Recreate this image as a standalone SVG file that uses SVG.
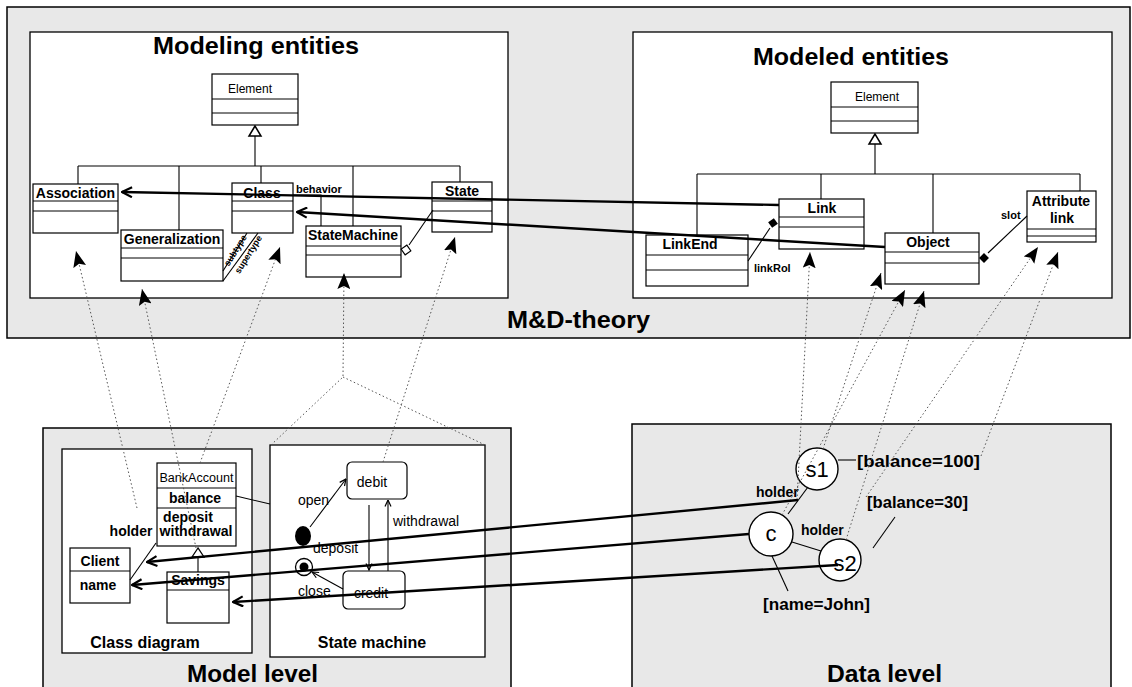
<svg xmlns="http://www.w3.org/2000/svg" width="1132" height="687" viewBox="0 0 1132 687">
<defs>
<marker id="tri" viewBox="0 0 16 13" refX="16" refY="6.5" markerWidth="16" markerHeight="13" markerUnits="userSpaceOnUse" orient="auto"><path d="M0,0 L16,6.5 L0,13 L3,6.5 z" fill="#000"/></marker>
<marker id="vee" viewBox="0 0 12 12" refX="11" refY="6" markerWidth="12" markerHeight="12" markerUnits="userSpaceOnUse" orient="auto"><path d="M1,1 L11,6 L1,11" fill="none" stroke="#000" stroke-width="2.2"/></marker>
<marker id="vs" viewBox="0 0 8 8" refX="7.5" refY="4" markerWidth="8" markerHeight="8" markerUnits="userSpaceOnUse" orient="auto"><path d="M1,1 L7.5,4 L1,7" fill="none" stroke="#000" stroke-width="1.2"/></marker>
</defs>
<style>
.panel{fill:#e8e8e8;stroke:#000;stroke-width:1.5}
.box{fill:#fff;stroke:#000;stroke-width:1.3}
.cls{fill:#fff;stroke:#000;stroke-width:1.2}
.sep{stroke:#000;stroke-width:1}
.t{font-family:"Liberation Sans",Arial,sans-serif;fill:#000}
.b{font-weight:bold}
.m{text-anchor:middle}
.dot{fill:none;stroke:#555;stroke-width:1;stroke-dasharray:1.5 2.5}
.thick{fill:none;stroke:#000;stroke-width:2.4}
.thin{fill:none;stroke:#000;stroke-width:1.1}
</style>

<g id="panels">
<rect x="7" y="7" width="1123" height="331" class="panel"/>
<rect x="43" y="428" width="468" height="262" class="panel"/>
<rect x="632" y="424" width="479" height="266" class="panel"/>
<rect x="30" y="32" width="478" height="266" class="box"/>
<rect x="633" y="32" width="479" height="266" class="box"/>
<rect x="62" y="449" width="190" height="204" class="box"/>
<rect x="270" y="445" width="215" height="212" class="box"/>
<text x="256" y="54" class="t b m" font-size="24" textLength="206" lengthAdjust="spacingAndGlyphs">Modeling entities</text>
<text x="851" y="65" class="t b m" font-size="24" textLength="196" lengthAdjust="spacingAndGlyphs">Modeled entities</text>
<text x="507" y="328" class="t b" font-size="24" textLength="143" lengthAdjust="spacingAndGlyphs">M&amp;D-theory</text>
<text x="187" y="682" class="t b" font-size="24" textLength="131" lengthAdjust="spacingAndGlyphs">Model level</text>
<text x="827" y="682" class="t b" font-size="24" textLength="115" lengthAdjust="spacingAndGlyphs">Data level</text>
<text x="145" y="648" class="t b m" font-size="16">Class diagram</text>
<text x="372" y="648" class="t b m" font-size="16">State machine</text>
</g>

<g id="trees">
<polygon points="255,126 249,136 261,136" fill="#fff" stroke="#000" stroke-width="1.5"/>
<path d="M255,136 V166 M78,166 H460 M78,166 V184 M179,166 V230 M261,166 V183 M353,166 V226 M460,166 V182" class="thin"/>
<polygon points="875,134 869,144 881,144" fill="#fff" stroke="#000" stroke-width="1.5"/>
<path d="M875,144 V174 M697,174 H1080 M697,174 V235 M821,174 V199 M933,174 V233 M1080,174 V191" class="thin"/>
</g>

<g id="el-left">
<rect x="212" y="74" width="86" height="51" class="cls"/>
<path d="M212,99 H298 M212,113 H298" class="sep"/>
<text x="250" y="93" class="t m" font-size="12">Element</text>
</g>
<g id="association">
<rect x="33" y="184" width="85" height="49" class="cls"/>
<path d="M33,201 H118 M33,211 H118" class="sep"/>
<text x="75.5" y="198" class="t b m" font-size="14">Association</text>
</g>
<g id="class">
<rect x="232" y="183" width="61" height="50" class="cls"/>
<path d="M232,201 H293 M232,211 H293" class="sep"/>
<text x="262" y="198" class="t b m" font-size="14">Class</text>
</g>
<g id="generalization">
<rect x="121" y="230" width="102" height="51" class="cls"/>
<path d="M121,248 H223 M121,258 H223" class="sep"/>
<text x="172" y="244" class="t b m" font-size="14">Generalization</text>
</g>
<g id="statemachine">
<rect x="306" y="226" width="95" height="51" class="cls"/>
<path d="M306,246 H401 M306,255 H401" class="sep"/>
<text x="353" y="240" class="t b m" font-size="14">StateMachine</text>
</g>
<g id="state">
<rect x="432" y="182" width="60" height="50" class="cls"/>
<path d="M432,201 H492 M432,211 H492" class="sep"/>
<text x="462" y="196" class="t b m" font-size="14">State</text>
</g>

<g id="el-right">
<rect x="831" y="82" width="87" height="51" class="cls"/>
<path d="M831,107 H918 M831,121 H918" class="sep"/>
<text x="877" y="101" class="t m" font-size="12">Element</text>
</g>
<g id="link">
<rect x="779" y="199" width="85" height="50" class="cls"/>
<path d="M779,217 H864 M779,227 H864" class="sep"/>
<text x="822" y="213" class="t b m" font-size="14">Link</text>
</g>
<g id="linkend">
<rect x="646" y="235" width="102" height="51" class="cls"/>
<path d="M646,255 H748 M646,270 H748" class="sep"/>
<text x="690" y="249" class="t b m" font-size="14">LinkEnd</text>
</g>
<g id="object">
<rect x="885" y="233" width="94" height="51" class="cls"/>
<path d="M885,252 H979 M885,263 H979" class="sep"/>
<text x="928" y="247" class="t b m" font-size="14">Object</text>
</g>
<g id="attributelink">
<rect x="1027" y="191" width="69" height="51" class="cls"/>
<path d="M1027,229 H1096 M1027,236 H1096" class="sep"/>
<text x="1061" y="206" class="t b m" font-size="14">Attribute</text>
<text x="1062" y="223" class="t b m" font-size="14">link</text>
</g>

<g id="client">
<rect x="70" y="548" width="60" height="55" class="cls"/>
<path d="M70,571 H130" class="sep"/>
<text x="100" y="566" class="t b m" font-size="14">Client</text>
<text x="98" y="590" class="t b m" font-size="14">name</text>
</g>
<g id="bankaccount">
<rect x="157" y="463" width="79" height="83" class="cls"/>
<path d="M157,488 H236 M157,508 H236" class="sep"/>
<text x="196.5" y="482" class="t m" font-size="12.5" textLength="74" lengthAdjust="spacingAndGlyphs">BankAccount</text>
<text x="195" y="503" class="t b m" font-size="14">balance</text>
<text x="188" y="522" class="t b m" font-size="14">deposit</text>
<text x="196" y="536" class="t b m" font-size="14" textLength="73" lengthAdjust="spacingAndGlyphs">withdrawal</text>
</g>
<g id="savings">
<rect x="167" y="572" width="62" height="51" class="cls"/>
<path d="M167,590 H229" class="sep"/>
<text x="198" y="585" class="t b m" font-size="14">Savings</text>
</g>

<g id="debit">
<rect x="347" y="462" width="60" height="37" rx="5" class="cls"/>
<text x="372" y="487" class="t m" font-size="14">debit</text>
</g>
<g id="credit">
<rect x="343" y="571" width="62" height="38" rx="5" class="cls"/>
<text x="371" y="598" class="t m" font-size="14">credit</text>
</g>
<g id="initial">
<ellipse cx="303" cy="536" rx="8" ry="10" fill="#000"/>
</g>
<g id="final">
<circle cx="304" cy="567" r="8.5" fill="#fff" stroke="#000" stroke-width="1.3"/>
<circle cx="304" cy="567" r="4.5" fill="#000"/>
</g>

<g id="s1">
<circle cx="817" cy="469" r="21" fill="#fff" stroke="#000" stroke-width="1.4"/>
<text x="817" y="477" class="t m" font-size="22">s1</text>
</g>
<g id="c">
<circle cx="771" cy="534" r="22" fill="#fff" stroke="#000" stroke-width="1.4"/>
<text x="771" y="541" class="t m" font-size="22">c</text>
</g>
<g id="s2">
<circle cx="840" cy="560" r="21" fill="#fff" stroke="#000" stroke-width="1.4"/>
<text x="845" y="571" class="t m" font-size="22">s2</text>
</g>
<g id="values">
<text x="857" y="467" class="t b" font-size="17" textLength="123" lengthAdjust="spacingAndGlyphs">[balance=100]</text>
<text x="867" y="508" class="t b" font-size="17" textLength="101" lengthAdjust="spacingAndGlyphs">[balance=30]</text>
<text x="763" y="610" class="t b" font-size="17" textLength="107" lengthAdjust="spacingAndGlyphs">[name=John]</text>
</g>

<g id="connectors">
<path d="M293,195 H321 V226" class="thin"/>
<text x="296" y="193" class="t b" font-size="11">behavior</text>
<line x1="223" y1="271" x2="247" y2="233" class="thin"/>
<line x1="223" y1="281" x2="258" y2="233" class="thin"/>
<text x="238" y="252" class="t b m" font-size="9" transform="rotate(-58 238 252)">subtype</text>
<text x="251" y="256" class="t b m" font-size="9" transform="rotate(-58 251 256)">supertype</text>
<line x1="409" y1="245" x2="433" y2="210" class="thin"/>
<rect x="402.5" y="246.5" width="7" height="7" fill="#fff" stroke="#000" stroke-width="1.1" transform="rotate(-35 406 250)"/>
<line x1="770" y1="228" x2="748" y2="261" class="thin"/>
<rect x="769.5" y="219.5" width="7" height="7" fill="#000" transform="rotate(-35 773 223)"/>
<text x="754" y="272" class="t b" font-size="11">linkRol</text>
<line x1="988" y1="253" x2="1027" y2="216" class="thin"/>
<rect x="980.5" y="254.5" width="7" height="7" fill="#000" transform="rotate(-45 984 258)"/>
<text x="1001" y="219" class="t b" font-size="11">slot</text>
<line x1="779" y1="205" x2="122" y2="192" class="thick" marker-end="url(#vee)"/>
<line x1="885" y1="247" x2="297" y2="212" class="thick" marker-end="url(#vee)"/>

<line x1="130" y1="580" x2="156" y2="543" class="thin"/>
<text x="131" y="536" class="t b m" font-size="14">holder</text>
<polygon points="198,548 192,557 204,557" fill="#fff" stroke="#000" stroke-width="1.3"/>
<line x1="198" y1="557" x2="198" y2="572" class="thin"/>
<line x1="236" y1="496" x2="270" y2="504" class="thin"/>

<line x1="310" y1="527" x2="346" y2="479" class="thin" marker-end="url(#vs)"/>
<line x1="369" y1="505" x2="369" y2="570" class="thin" marker-end="url(#vs)"/>
<line x1="388" y1="571" x2="388" y2="500" class="thin" marker-end="url(#vs)"/>
<line x1="343" y1="589" x2="312" y2="572" class="thin" marker-end="url(#vs)"/>
<text x="298" y="505" class="t" font-size="14">open</text>
<text x="313" y="553" class="t" font-size="14">deposit</text>
<text x="393" y="526" class="t" font-size="14">withdrawal</text>
<text x="298" y="596" class="t" font-size="14">close</text>

<line x1="808" y1="487" x2="788" y2="514" class="thin"/>
<line x1="792" y1="542" x2="821" y2="551" class="thin"/>
<line x1="772" y1="556" x2="788" y2="591" class="thin"/>
<line x1="895" y1="517" x2="873" y2="548" class="thin"/>
<line x1="838" y1="460" x2="856" y2="460" class="thin"/>
<text x="756" y="497" class="t b" font-size="14">holder</text>
<text x="801" y="535" class="t b" font-size="14">holder</text>

<line x1="137" y1="508" x2="76" y2="251" class="dot" marker-end="url(#tri)"/>
<line x1="196" y1="548" x2="142" y2="289" class="dot" marker-end="url(#tri)"/>
<line x1="200" y1="463" x2="280" y2="247" class="dot" marker-end="url(#tri)"/>
<polyline points="271,445 343,377 344,273" class="dot" marker-end="url(#tri)"/>
<line x1="485" y1="445" x2="343" y2="377" class="dot"/>
<line x1="383" y1="462" x2="455" y2="237" class="dot" marker-end="url(#tri)"/>
<line x1="797" y1="500" x2="810" y2="252" class="dot" marker-end="url(#tri)"/>
<line x1="823" y1="449" x2="881" y2="273" class="dot" marker-end="url(#tri)"/>
<line x1="782" y1="515" x2="905" y2="290" class="dot" marker-end="url(#tri)"/>
<line x1="846" y1="540" x2="924" y2="291" class="dot" marker-end="url(#tri)"/>
<line x1="866" y1="497" x2="1038" y2="247" class="dot" marker-end="url(#tri)"/>
<line x1="981" y1="456" x2="1058" y2="252" class="dot" marker-end="url(#tri)"/>

<line x1="798" y1="500" x2="147" y2="562" class="thick" marker-end="url(#vee)"/>
<line x1="749" y1="534" x2="132" y2="585" class="thick" marker-end="url(#vee)"/>
<line x1="838" y1="565" x2="233" y2="602" class="thick" marker-end="url(#vee)"/>
</g>
</svg>
